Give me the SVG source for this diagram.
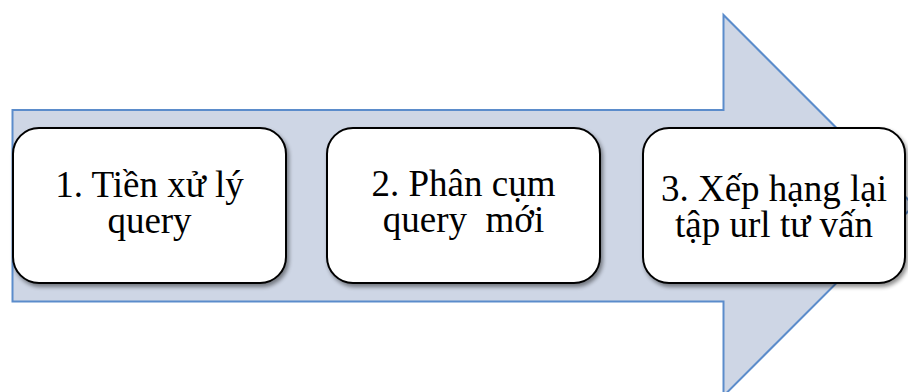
<svg xmlns="http://www.w3.org/2000/svg" width="908" height="392" viewBox="0 0 908 392">
<defs>
<filter id="sh" x="-10%" y="-10%" width="130%" height="130%">
<feGaussianBlur in="SourceAlpha" stdDeviation="2"/>
<feOffset dx="2" dy="3" result="b"/>
<feComponentTransfer><feFuncA type="linear" slope="0.45"/></feComponentTransfer>
<feMerge><feMergeNode/><feMergeNode in="SourceGraphic"/></feMerge>
</filter>
</defs>
<style>
.arrow{fill:#CED6E5;stroke:#5B8CCB;stroke-width:2}
.box{fill:#FFFFFF;stroke:#000000;stroke-width:2;filter:url(#sh)}
.t{font-family:"Liberation Serif","DejaVu Serif",serif;font-size:37px;fill:#000000;text-anchor:middle}
</style>
<g id="connectors">
<path class="arrow" d="M12.5,110 L723.5,110 L723.5,15 L914,205.5 L723.5,396 L723.5,301.5 L12.5,301.5 Z"/>
</g>
<g id="node1">
<rect class="box" x="13" y="128" width="273" height="155" rx="26" ry="26"/>
<text class="t" x="149.5" y="197">1. Tiền xử lý</text>
<text class="t" x="149.5" y="233">query</text>
</g>
<g id="node2">
<rect class="box" x="327" y="128" width="273" height="155" rx="26" ry="26"/>
<text class="t" x="463.5" y="196">2. Phân cụm</text>
<text class="t" x="463.5" y="232" xml:space="preserve">query  mới</text>
</g>
<g id="node3">
<rect class="box" x="643" y="128" width="262" height="155" rx="26" ry="26"/>
<text class="t" x="774" y="201">3. Xếp hạng lại</text>
<text class="t" x="774" y="237">tập url tư vấn</text>
</g>
</svg>
